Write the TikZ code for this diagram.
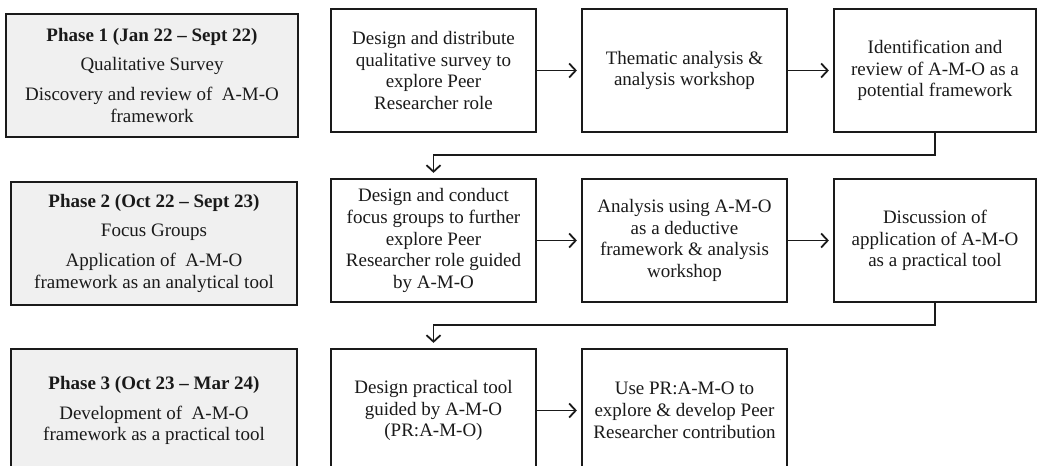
\documentclass[tikz,border=0pt]{standalone}
\usepackage{fontspec}
\setmainfont{Liberation Serif}
\usetikzlibrary{arrows.meta}
\definecolor{phasefill}{HTML}{F0F0F0}
\definecolor{ink}{HTML}{1A1A1A}
\tikzset{
  stepbox/.style={draw=ink, line width=2.2pt, fill=white, align=center,
    minimum width=205pt, minimum height=123pt, inner sep=2pt,
    font=\fontsize{19}{21.8}\selectfont, text=ink},
  phasebox/.style={stepbox, fill=phasefill, minimum width=286pt},
  flow/.style={draw=ink, line width=1.8pt,
    -{Straight Barb[length=6.5pt,width=14pt,line width=1.8pt]}, shorten >=4pt},
  elbow/.style={draw=ink, line width=1.8pt,
    -{Straight Barb[length=6.5pt,width=14pt,line width=1.8pt]}, shorten >=5pt}
}
\begin{document}
\begin{tikzpicture}[x=1pt,y=-1pt]
\useasboundingbox (0,0) rectangle (1037,466);
\clip (0,0) rectangle (1037,466);

% phase descriptions
\node[phasebox, minimum width=292pt] (p1) at (152,75.5)
  {\textbf{Phase 1 (Jan 22 – Sept 22)}\\[7pt]Qualitative Survey\\[8pt]Discovery and review of~ A-M-O\\framework};
\node[phasebox] (p2) at (154,243.5)
  {\textbf{Phase 2 (Oct 22 – Sept 23)}\\[7pt]Focus Groups\\[8pt]Application of~ A-M-O\\framework as an analytical tool};
\node[phasebox] (p3) at (154,410.5)
  {\textbf{Phase 3 (Oct 23 – Mar 24)}\\[8pt]Development of~ A-M-O\\framework as a practical tool};

% phase 1 steps
\node[stepbox] (a) at (433.5,70.5)
  {Design and distribute\\qualitative survey to\\explore Peer\\Researcher role};
\node[stepbox] (b) at (684.5,70.5)
  {Thematic analysis \&\\analysis workshop};
\node[stepbox, minimum width=202pt] (c) at (935,70.5)
  {Identification and\\review of A-M-O as a\\potential framework};

% phase 2 steps
\node[stepbox] (d) at (433.5,240.5)
  {Design and conduct\\focus groups to further\\explore Peer\\Researcher role guided\\by A-M-O};
\node[stepbox] (e) at (684.5,240.5)
  {Analysis using A-M-O\\as a deductive\\framework \& analysis\\workshop};
\node[stepbox, minimum width=202pt] (f) at (935,240.5)
  {Discussion of\\application of A-M-O\\as a practical tool};

% phase 3 steps
\node[stepbox] (g) at (433.5,410.5)
  {Design practical tool\\guided by A-M-O\\(PR:A-M-O)};
\node[stepbox] (h) at (684.5,410.5)
  {Use PR:A-M-O to\\explore \& develop Peer\\Researcher contribution};

% horizontal flow within each phase
\draw[flow] (a) -- (b);
\draw[flow] (b) -- (c);
\draw[flow] (d) -- (e);
\draw[flow] (e) -- (f);
\draw[flow] (g) -- (h);

% hand-over between phases
\coordinate (k1) at (935,155);
\coordinate (k2) at (935,325);
\draw[elbow] (c.south) -- (k1) -| (d.north);
\draw[elbow] (f.south) -- (k2) -| (g.north);
\end{tikzpicture}
\end{document}
